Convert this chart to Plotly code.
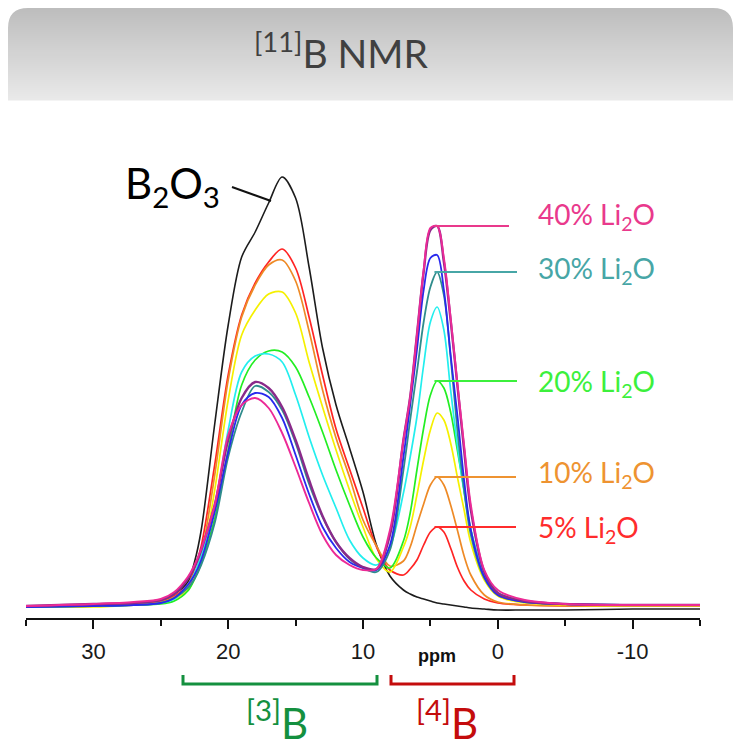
import plotly.graph_objects as go

# ---------------- data ----------------
ppm = [35, 30, 27, 25, 24, 23, 22.5, 22, 21, 20, 19, 18, 17, 16, 15, 14, 13, 12, 11, 10, 9,
       8, 7, 6.5, 6, 5.5, 5, 4.5, 4, 3.5, 3, 2.5, 2, 1, 0, -2, -5, -10, -15]

b2o3 = [0, 2, 4, 7, 13, 25, 45, 77, 183, 282, 350, 375, 404, 430, 409, 340, 259, 202, 159, 115, 62,
        31, 17, 13, 10, 8, 6, 4, 3, 2, 1, 0, -1, -2, -3, -3, -3, -2, -2]
li05 = [0, 1, 3, 6, 11, 22, 38, 61, 142, 232, 292, 324, 345, 358, 339, 290, 232, 178, 138, 99, 60,
        37, 32, 38, 47, 62, 75, 80, 75, 59, 40, 26, 17, 8, 4, 2, 1, 1, 1]
li10 = [0, 1, 3, 5, 10, 20, 33, 52, 132, 227, 290, 322, 342, 347, 326, 276, 217, 169, 130, 87, 61,
        41, 46, 60, 82, 103, 122, 130, 122, 102, 77, 51, 32, 12, 5, 2, 1, 1, 1]
li15 = [0, 0, 2, 4, 8, 17, 28, 44, 117, 207, 272, 297, 313, 315, 294, 245, 200, 157, 117, 80, 48,
        35, 60, 80, 112, 147, 177, 194, 187, 164, 130, 97, 64, 27, 11, 4, 2, 1, 1]
li20 = [0, 1, 2, 3, 6, 16, 28, 44, 88, 157, 222, 247, 256, 255, 240, 210, 175, 137, 102, 70, 49,
        39, 66, 94, 137, 179, 212, 226, 219, 195, 157, 117, 77, 32, 14, 6, 3, 2, 2]
li25 = [0, 1, 2, 4, 8, 22, 34, 52, 100, 177, 235, 251, 253, 245, 212, 170, 132, 99, 67, 49, 42,
        60, 114, 150, 190, 242, 285, 300, 277, 217, 162, 115, 77, 32, 14, 6, 3, 2, 2]
li30 = [0, 1, 2, 4, 9, 19, 28, 42, 84, 150, 195, 221, 215, 197, 164, 123, 90, 65, 48, 39, 35,
        57, 137, 187, 235, 285, 320, 335, 312, 250, 177, 117, 72, 29, 12, 5, 3, 2, 2]
li35 = [0, 1, 2, 4, 9, 22, 32, 47, 95, 155, 202, 214, 210, 189, 152, 113, 80, 59, 45, 39, 37,
        62, 150, 202, 257, 317, 349, 352, 317, 252, 192, 127, 77, 30, 12, 5, 3, 2, 2]
li38 = [1, 3, 4, 7, 13, 28, 40, 57, 102, 167, 209, 225, 219, 200, 167, 127, 91, 65, 49, 40, 38,
        72, 167, 210, 272, 335, 377, 381, 345, 287, 222, 157, 97, 35, 14, 6, 3, 2, 2]
li40 = [1, 3, 5, 8, 15, 30, 42, 58, 102, 172, 202, 209, 199, 174, 140, 104, 72, 52, 42, 37, 38,
        77, 167, 210, 272, 337, 379, 381, 349, 289, 224, 162, 102, 37, 17, 7, 3, 2, 2]

series_names = ["B2O3", "5% Li2O", "10% Li2O", "15% Li2O", "20% Li2O", "25% Li2O",
                "30% Li2O", "35% Li2O", "38% Li2O", "40% Li2O"]
series_vals = [b2o3, li05, li10, li15, li20, li25, li30, li35, li38, li40]
series_colors = ["#1c1c1c", "#ff2424", "#ee8a26", "#f5f000", "#22ee22", "#22eeee",
                 "#2f8c8c", "#2828ee", "#8a2a8a", "#ec2a96"]
series_widths = [1.6, 1.7, 1.7, 1.7, 1.7, 1.7, 1.8, 1.8, 2.4, 1.9]

label_text = ["40% Li<sub>2</sub>O", "30% Li<sub>2</sub>O", "20% Li<sub>2</sub>O",
              "10% Li<sub>2</sub>O", "5% Li<sub>2</sub>O"]
label_series = [li40, li30, li20, li10, li05]
label_colors = ["#e9398c", "#47a6a6", "#3cf03c", "#ee9331", "#ff2c2c"]

major_ticks = [30, 20, 10, 0, -10]

# ---------------- geometry helpers ----------------
W, H = 733, 750
ML, MR, MT, MB = 26, 33, 147, 132
PW, PH = W - ML - MR, H - MT - MB


def px(x):
    return (x - ML) / PW


def py(y):
    return (H - MB - y) / PH


fig = go.Figure()
for name, vals, col, lw in zip(series_names, series_vals, series_colors, series_widths):
    fig.add_trace(go.Scatter(x=ppm, y=vals, mode="lines", name=name,
                             line=dict(color=col, width=lw, shape="spline", smoothing=0.9),
                             hoverinfo="skip", showlegend=False))

shapes = []
# title band (vertical gradient built from thin strips)
top, bot = 8, 100
n = 46
for i in range(n):
    y0 = top + (bot - top) * i / n
    y1 = top + (bot - top) * (i + 1) / n + 0.6
    g = int(round(189 + (233 - 189) * i / (n - 1)))
    shapes.append(dict(type="rect", xref="paper", yref="paper",
                       x0=px(8), x1=px(740), y0=py(y1), y1=py(y0),
                       fillcolor=f"rgb({g},{g},{g})", line=dict(width=0), layer="below"))
r = 20
for cx, sgn in [(8, 1), (733, -1)]:
    path = (f"M {px(cx - sgn*2)},{py(top - 2)} L {px(cx + sgn*r)},{py(top - 2)} "
            f"L {px(cx + sgn*r)},{py(top)} Q {px(cx)},{py(top)} {px(cx)},{py(top + r)} "
            f"L {px(cx - sgn*2)},{py(top + r)} Z")
    shapes.append(dict(type="path", xref="paper", yref="paper", path=path,
                       fillcolor="white", line=dict(width=0), layer="below"))

# leader lines to the [4]B peaks
label_y_px = [216, 270, 383, 474, 529]
end_px = [509, 517, 517, 516, 516]
annotations = []
for txt, vals, col, ly, ex in zip(label_text, label_series, label_colors, label_y_px, end_px):
    idx = max(range(len(ppm)), key=lambda k: vals[k] if ppm[k] < 8 else -1e9)
    peak_y = vals[idx]
    x_end = 35 - (ex - ML) / PW * 50
    shapes.append(dict(type="line", xref="x", yref="y", x0=ppm[idx] + 0.2, x1=x_end,
                       y0=peak_y, y1=peak_y, line=dict(color=col, width=2)))
    annotations.append(dict(xref="paper", yref="paper", x=px(536), y=py(ly), xanchor="left",
                            yanchor="middle", text=txt, showarrow=False,
                            font=dict(family="Lato", size=28, color=col)))

# B2O3 label and its leader
shapes.append(dict(type="line", xref="paper", yref="paper", x0=px(232), y0=py(187),
                   x1=px(271), y1=py(201), line=dict(color="#111111", width=2)))
annotations.append(dict(xref="paper", yref="paper", x=px(172), y=py(186), xanchor="center",
                        yanchor="middle", text="B<sub>2</sub>O<sub>3</sub>", showarrow=False,
                        font=dict(family="Lato", size=42, color="#000000")))

# title
annotations.append(dict(xref="paper", yref="paper", x=px(341), y=py(50), xanchor="center",
                        yanchor="middle", text="<sup>[11]</sup>B NMR", showarrow=False,
                        font=dict(family="Lato", size=39, color="#404040")))

# ppm axis label
annotations.append(dict(xref="paper", yref="paper", x=px(437), y=py(656), xanchor="center",
                        yanchor="middle", text="<b>ppm</b>", showarrow=False,
                        font=dict(family="Liberation Sans", size=18, color="#111111")))

# brackets
for x0, x1, col in [(183, 377, "#14903f"), (391, 514, "#c40c0c")]:
    path = (f"M {px(x0)},{py(675)} L {px(x0)},{py(684)} L {px(x1)},{py(684)} "
            f"L {px(x1)},{py(675)}")
    shapes.append(dict(type="path", xref="paper", yref="paper", path=path,
                       line=dict(color=col, width=3)))

annotations.append(dict(xref="paper", yref="paper", x=px(277), y=py(720), xanchor="center",
                        yanchor="middle", text="<sup>[3]</sup>B", showarrow=False,
                        font=dict(family="Lato", size=42, color="#14903f")))
annotations.append(dict(xref="paper", yref="paper", x=px(447), y=py(720), xanchor="center",
                        yanchor="middle", text="<sup>[4]</sup>B", showarrow=False,
                        font=dict(family="Lato", size=42, color="#c40c0c")))

fig.update_layout(
    width=W, height=H, margin=dict(l=ML, r=MR, t=MT, b=MB, autoexpand=False),
    paper_bgcolor="white", plot_bgcolor="white", showlegend=False,
    shapes=shapes, annotations=annotations,
    xaxis=dict(range=[35, -15], showline=True, linecolor="#111111", linewidth=2,
               ticks="outside", tickvals=major_ticks, ticktext=[str(t) for t in major_ticks],
               ticklen=9, tickwidth=2, tickcolor="#111111",
               minor=dict(dtick=5, tick0=0, ticks="outside", ticklen=6, tickwidth=2,
                          tickcolor="#111111"),
               showgrid=False, zeroline=False, ticklabelstandoff=4,
               tickfont=dict(family="Arial, Liberation Sans", size=22, color="#1a1a1a"),
               fixedrange=True),
    yaxis=dict(range=[-11, 460], visible=False, fixedrange=True),
)

fig.write_html("out.html")
